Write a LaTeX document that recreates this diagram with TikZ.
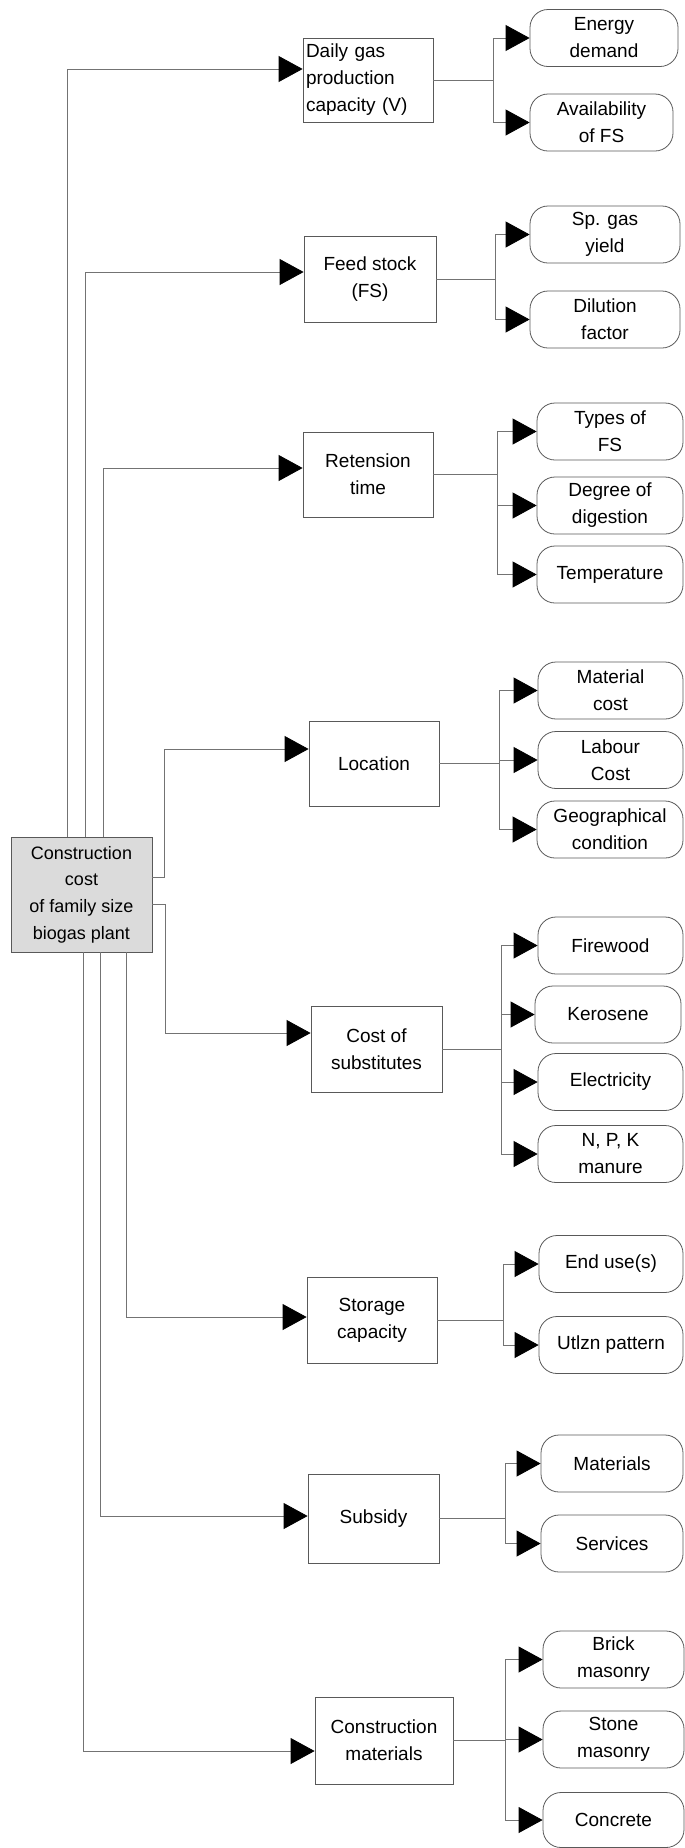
\documentclass[tikz,border=0pt]{standalone}
\usepackage{fontspec}
\setmainfont{Liberation Sans}
\usetikzlibrary{arrows.meta,calc}
\begin{document}
\begin{tikzpicture}[x=1pt,y=-1pt,
  conn/.style={draw=black!55, line width=0.8pt},
  arr/.style={conn, -{Triangle[length=24pt,width=26pt,color=black]}},
  mid/.style={draw=black!65, line width=0.8pt, minimum width=130pt, minimum height=85pt,
    align=center, inner sep=2pt, font=\fontsize{19}{27}\selectfont},
  leaf/.style={draw=black!65, line width=0.8pt, rounded corners=18pt, minimum height=57pt,
    align=center, inner sep=1pt, font=\fontsize{19}{27}\selectfont},
  rootbox/.style={draw=black!65, line width=0.8pt, fill=black!14, minimum width=141pt,
    minimum height=115pt, align=center, inner sep=1pt, font=\fontsize{18}{26.7}\selectfont}
  ]
\useasboundingbox (0,0) rectangle (685,1848);

% root
\node[rootbox] (root) at (81.5,894.5) {Construction\\cost\\of family size\\biogas plant};

% middle column
\node[mid, align=left, text width=124pt, inner xsep=3pt, minimum height=84pt] (dg) at (368,80) {Daily gas\\production\\capacity (V)};
\node[mid, minimum width=132pt, minimum height=86pt] (fs) at (370,279) {Feed stock\\(FS)};
\node[mid] (rt) at (368,474.5) {Retension\\time};
\node[mid] (loc) at (374,763.5) {Location};
\node[mid, minimum width=131pt, minimum height=86pt] (cos) at (376.5,1049) {Cost of\\substitutes};
\node[mid, minimum height=86pt] (sto) at (372,1320) {Storage\\capacity};
\node[mid, minimum width=131pt, minimum height=89pt] (sub) at (373.5,1518.5) {Subsidy};
\node[mid, minimum width=138pt, minimum height=87pt] (cm) at (384,1740.5) {Construction\\materials};

% leaves
\node[leaf, minimum width=148pt] (ed) at (604,38) {Energy\\demand};
\node[leaf, minimum width=143pt] (af) at (601.5,122.5) {Availability\\of FS};
\node[leaf, minimum width=150pt] (sg) at (605,234.5) {Sp. gas\\yield};
\node[leaf, minimum width=150pt] (df) at (605,319.5) {Dilution\\factor};
\node[leaf, minimum width=146pt] (tf) at (610,431.5) {Types of\\FS};
\node[leaf, minimum width=146pt] (dd) at (610,505.5) {Degree of\\digestion};
\node[leaf, minimum width=146pt] (te) at (610,574.5) {Temperature};
\node[leaf, minimum width=145pt] (mc) at (610.5,690.5) {Material\\cost};
\node[leaf, minimum width=145pt] (lc) at (610.5,760) {Labour\\Cost};
\node[leaf, minimum width=146pt] (gc) at (610,829.5) {Geographical\\condition};
\node[leaf, minimum width=145pt] (fw) at (610.5,945.5) {Firewood};
\node[leaf, minimum width=146pt] (ke) at (608,1014.5) {Kerosene};
\node[leaf, minimum width=145pt] (el) at (610.5,1082) {Electricity};
\node[leaf, minimum width=145pt] (np) at (610.5,1154) {N, P, K\\manure};
\node[leaf, minimum width=144pt] (eu) at (611,1264) {End use(s)};
\node[leaf, minimum width=144pt] (up) at (611,1345) {Utlzn pattern};
\node[leaf, minimum width=142pt] (ma) at (612,1463.5) {Materials};
\node[leaf, minimum width=142pt] (se) at (612,1543.5) {Services};
\node[leaf, minimum width=141pt] (bm) at (613.5,1659.5) {Brick\\masonry};
\node[leaf, minimum width=141pt] (sm) at (613.5,1739.5) {Stone\\masonry};
\node[leaf, minimum width=141pt, minimum height=55pt] (co) at (613.5,1820) {Concrete};

% split coordinates
\coordinate (s1) at (493,0);
\coordinate (s2) at (495,0);
\coordinate (s3) at (497,0);
\coordinate (s4) at (499,0);
\coordinate (s5) at (501,0);
\coordinate (s6) at (503,0);
\coordinate (s7) at (505,0);
\coordinate (s8) at (505,0);

% root to middle column
\draw[arr] ([xshift=-14.5pt]root.north) |- ([yshift=11pt]dg.west);
\draw[arr] ([xshift=3.5pt]root.north) |- ([yshift=7pt]fs.west);
\draw[arr] ([xshift=21.5pt]root.north) |- ([yshift=6.5pt]rt.west);
\draw[arr] ([yshift=17.5pt]root.east) -- ++(12,0) |- ([yshift=14.5pt]loc.west);
\draw[arr] ([yshift=-9.5pt]root.east) -- ++(13,0) |- ([yshift=16pt]cos.west);
\draw[arr] ([xshift=44.5pt]root.south) |- ([yshift=3pt]sto.west);
\draw[arr] ([xshift=18.5pt]root.south) |- ([yshift=2.5pt]sub.west);
\draw[arr] ([xshift=1.5pt]root.south) |- ([yshift=-10.5pt]cm.west);

% branches
\foreach \m/\s/\l in {dg/s1/ed, dg/s1/af, fs/s2/sg, fs/s2/df,
  rt/s3/tf, rt/s3/dd, rt/s3/te, loc/s4/mc, loc/s4/lc, loc/s4/gc,
  cos/s5/fw, cos/s5/ke, cos/s5/el, cos/s5/np, sto/s6/eu, sto/s6/up,
  sub/s7/ma, sub/s7/se, cm/s8/bm, cm/s8/sm, cm/s8/co}
  \draw[arr] (\m.east) -- (\m.east -| \s) |- (\l.west);
\end{tikzpicture}
\end{document}
